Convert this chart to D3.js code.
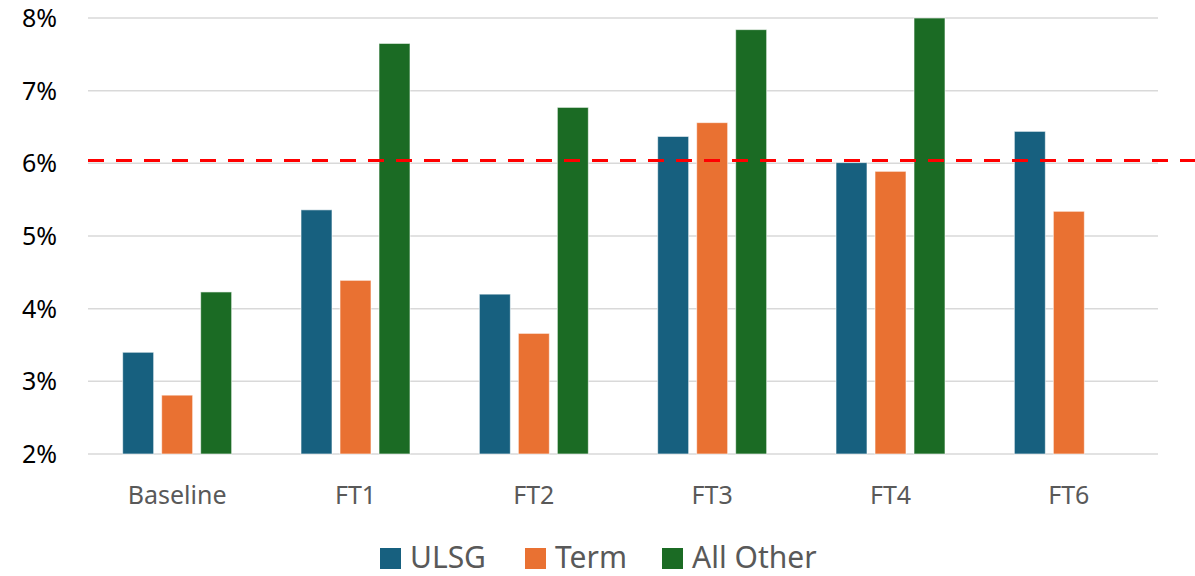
<!DOCTYPE html>
<html>
<head>
<meta charset="utf-8">
<script src="https://cdn.jsdelivr.net/npm/d3@7"></script>
<style>
  html, body { margin: 0; padding: 0; background: #fff; }
  svg { display: block; font-family: "Noto Sans", "Open Sans", sans-serif; }
</style>
</head>
<body>
<div id="chart"></div>
<script>
// data
const categories = ["Baseline", "FT1", "FT2", "FT3", "FT4", "FT6"];
const seriesNames = ["ULSG", "Term", "All Other"];
const ulsg = [3.40, 5.36, 4.20, 6.37, 6.01, 6.44];
const term = [2.81, 4.39, 3.66, 6.56, 5.89, 5.34];
const allOther = [4.23, 7.65, 6.77, 7.84, 8.00, null];
const yTicks = [2, 3, 4, 5, 6, 7, 8];
const threshold = 6.04;

const colors = ["#17607F", "#E97132", "#1B6B24"];
const values = [ulsg, term, allOther];

const width = 1195, height = 576;
const plotLeft = 88, plotRight = 1158, plotTop = 18, plotBottom = 454;

const svg = d3.select("#chart").append("svg")
    .attr("width", width)
    .attr("height", height);

const x0 = d3.scaleBand()
    .domain(categories)
    .range([plotLeft, plotRight])
    .paddingInner(0)
    .paddingOuter(0);

const groupW = 109;
const x1 = d3.scaleBand()
    .domain(seriesNames)
    .range([0, groupW])
    .paddingInner(8 / 39)
    .paddingOuter(0);

const y = d3.scaleLinear()
    .domain([2, 8])
    .range([plotBottom, plotTop]);

// gridlines
svg.append("g")
    .selectAll("line")
    .data(yTicks)
    .join("line")
    .attr("x1", plotLeft)
    .attr("x2", plotRight)
    .attr("y1", d => y(d))
    .attr("y2", d => y(d))
    .attr("stroke", "#D9D9D9")
    .attr("stroke-width", 1.5);

// y axis labels
svg.append("g")
    .selectAll("text")
    .data(yTicks)
    .join("text")
    .attr("x", 57)
    .attr("y", d => y(d))
    .attr("dy", "0.36em")
    .attr("text-anchor", "end")
    .attr("font-size", 25)
    .attr("fill", "#000")
    .text(d => d + "%");

// bars
const rows = [];
categories.forEach((c, i) => {
    seriesNames.forEach((s, j) => {
        if (values[j][i] != null) rows.push({ cat: c, series: s, idx: j, v: values[j][i] });
    });
});

const offset = (x0.bandwidth() - groupW) / 2;
svg.append("g")
    .selectAll("rect")
    .data(rows)
    .join("rect")
    .attr("x", d => x0(d.cat) + offset + x1(d.series))
    .attr("y", d => y(d.v))
    .attr("width", x1.bandwidth())
    .attr("height", d => y(2) - y(d.v))
    .attr("fill", d => colors[d.idx])
    .attr("stroke", "rgba(255,255,255,0.6)")
    .attr("stroke-width", 1);

// threshold line
svg.append("line")
    .attr("x1", plotLeft)
    .attr("x2", width)
    .attr("y1", y(threshold))
    .attr("y2", y(threshold))
    .attr("stroke", "#FF0000")
    .attr("stroke-width", 3)
    .attr("stroke-dasharray", "16,12");

// x labels
svg.append("g")
    .selectAll("text")
    .data(categories)
    .join("text")
    .attr("x", d => x0(d) + x0.bandwidth() / 2)
    .attr("y", 504)
    .attr("text-anchor", "middle")
    .attr("font-size", 25)
    .attr("fill", "#595959")
    .text(d => d);

// legend
const legendX = [380, 525, 662];
const legend = svg.append("g")
    .selectAll("g")
    .data(seriesNames)
    .join("g")
    .attr("transform", (d, i) => `translate(${legendX[i]},0)`);

legend.append("rect")
    .attr("x", 0)
    .attr("y", 548)
    .attr("width", 21)
    .attr("height", 21)
    .attr("fill", (d, i) => colors[i]);

legend.append("text")
    .attr("x", 30)
    .attr("y", 568)
    .attr("font-size", 30)
    .attr("fill", "#595959")
    .text(d => d);
</script>
</body>
</html>
